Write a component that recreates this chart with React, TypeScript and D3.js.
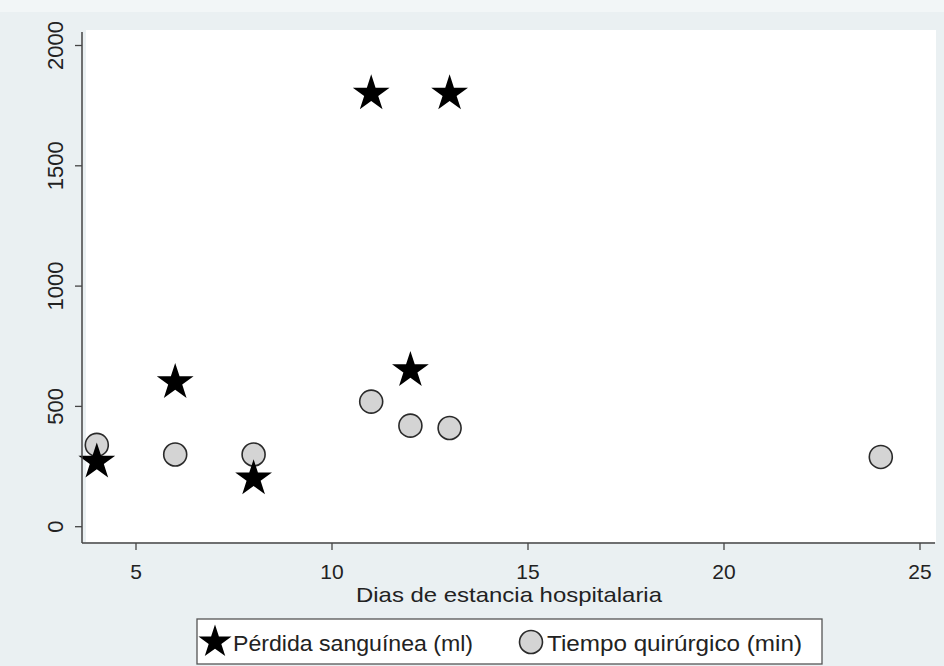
import React from 'react';
import * as d3 from 'd3';

const diasPerdida = [4, 6, 8, 11, 12, 13];
const perdida = [270, 600, 200, 1800, 650, 1800];
const diasTiempo = [4, 6, 8, 11, 12, 13, 24];
const tiempo = [340, 300, 300, 520, 420, 410, 290];
const xTicks = [5, 10, 15, 20, 25];
const yTicks = [0, 500, 1000, 1500, 2000];
const xTitle = 'Dias de estancia hospitalaria';
const legendLabels = ['Pérdida sanguínea (ml)', 'Tiempo quirúrgico (min)'];

const W = 944;
const H = 666;
const FONT = '"Liberation Sans", Arial, Helvetica, sans-serif';

export default function App() {
  const x = d3.scaleLinear().domain([5, 25]).range([136, 920]);
  const y = d3.scaleLinear().domain([0, 2000]).range([526.7, 45.5]);
  const axisY = 543;
  const axisX = 82;
  const star = d3.symbol(d3.symbolStar, 420)() as string;
  const starLegend = d3.symbol(d3.symbolStar, 340)() as string;
  const circR = 11.5;

  return (
    <svg
      width={W}
      height={H}
      style={{ position: 'absolute', left: 0, top: 0, display: 'block' }}
      fontFamily={FONT}
    >
      <rect x={0} y={0} width={W} height={H} fill="#eaf0f2" />
      <rect x={0} y={0} width={W} height={12} fill="#f2f6f7" />
      <rect x={86} y={30} width={850} height={512} fill="#ffffff" />

      {/* circles first */}
      {diasTiempo.map((d, i) => (
        <circle
          key={'c' + i}
          cx={x(d)}
          cy={y(tiempo[i])}
          r={circR}
          fill="#d4d4d4"
          stroke="#2a2a2a"
          strokeWidth={1.6}
        />
      ))}
      {diasPerdida.map((d, i) => (
        <path
          key={'s' + i}
          d={star}
          transform={`translate(${x(d)},${y(perdida[i])})`}
          fill="#000"
        />
      ))}

      {/* axes */}
      <line x1={axisX} x2={axisX} y1={32} y2={axisY} stroke="#444" strokeWidth={1.5} />
      <line x1={axisX} x2={935} y1={axisY} y2={axisY} stroke="#444" strokeWidth={1.5} />
      {yTicks.map((t) => (
        <g key={'yt' + t}>
          <line x1={axisX - 7} x2={axisX} y1={y(t)} y2={y(t)} stroke="#444" strokeWidth={1.3} />
          <text
            transform={`translate(63,${y(t)}) rotate(-90)`}
            textAnchor="middle"
            fontSize={22}
            fill="#222"
          >
            {t}
          </text>
        </g>
      ))}
      {xTicks.map((t) => (
        <g key={'xt' + t}>
          <line x1={x(t)} x2={x(t)} y1={axisY} y2={axisY + 7} stroke="#444" strokeWidth={1.3} />
          <text x={x(t)} y={579} textAnchor="middle" fontSize={21} fill="#222">
            {t}
          </text>
        </g>
      ))}
      <text
        x={509}
        y={602}
        textAnchor="middle"
        fontSize={21}
        fill="#222"
        textLength={306}
        lengthAdjust="spacingAndGlyphs"
      >
        {xTitle}
      </text>

      {/* legend */}
      <rect x={197} y={619} width={625} height={45} fill="#fff" stroke="#555" strokeWidth={1.3} />
      <path d={starLegend} transform="translate(215,642)" fill="#000" />
      <text x={233} y={651} fontSize={22} fill="#222" textLength={240} lengthAdjust="spacingAndGlyphs">
        {legendLabels[0]}
      </text>
      <circle cx={531} cy={642} r={circR} fill="#d4d4d4" stroke="#2a2a2a" strokeWidth={1.6} />
      <text x={547} y={651} fontSize={22} fill="#222" textLength={255} lengthAdjust="spacingAndGlyphs">
        {legendLabels[1]}
      </text>
    </svg>
  );
}
